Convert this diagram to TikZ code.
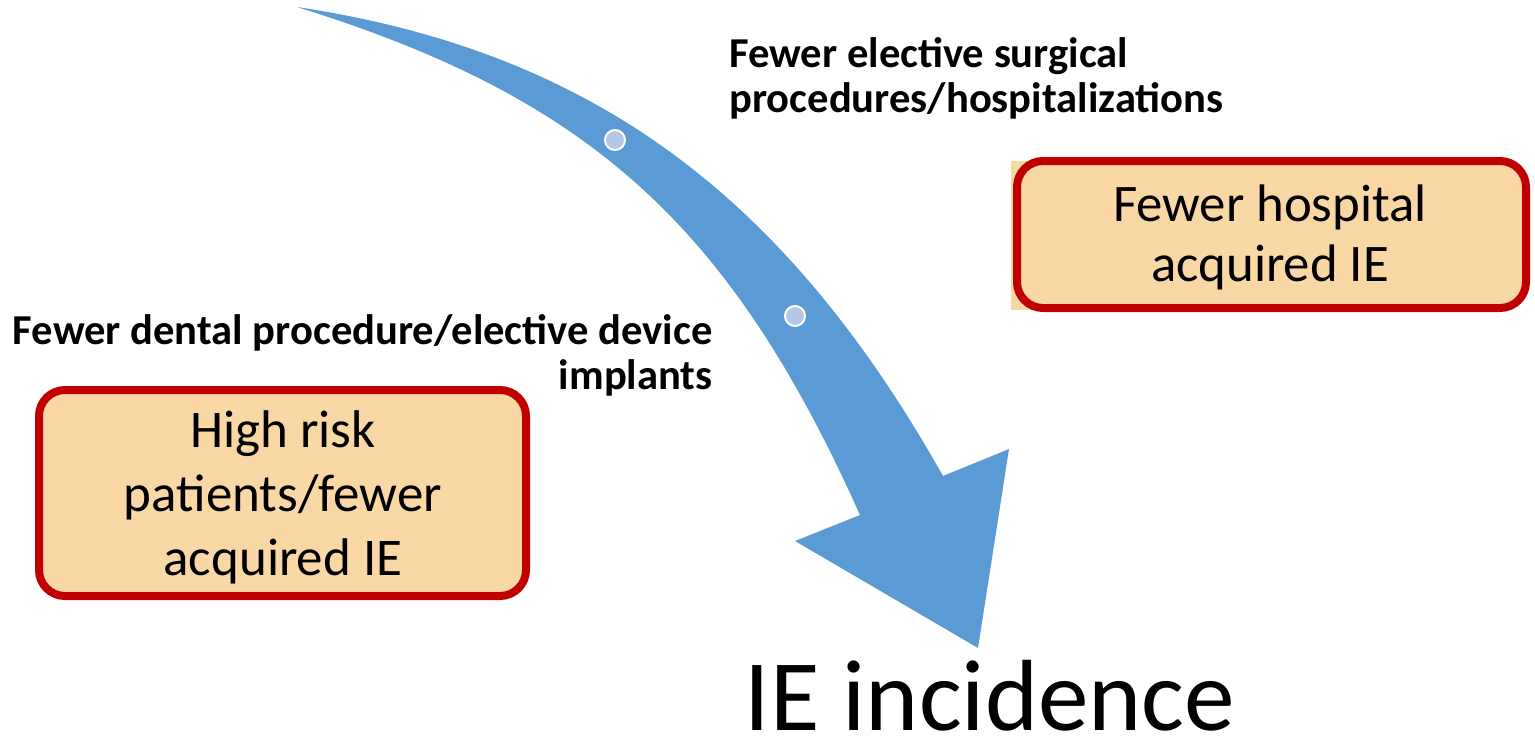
\documentclass[tikz,border=0pt]{standalone}
\usepackage{fontspec}
\setmainfont{Carlito}
\definecolor{arrowblue}{HTML}{5B9BD5}
\definecolor{dotblue}{HTML}{B4C7E7}
\definecolor{peach}{HTML}{FAD8A6}
\definecolor{boxred}{HTML}{C00000}
\tikzset{
  ebox/.style={draw=boxred, line width=4pt, fill=peach, rounded corners=13pt, align=center,
    inner sep=0pt},
  dotmark/.style={circle, fill=dotblue, draw=white, line width=1pt, minimum size=10pt, inner sep=0pt},
  blabel/.style={font=\fontsize{21.3}{22.5}\selectfont\bfseries, inner sep=0pt}
}
\begin{document}
\begin{tikzpicture}[x=0.5pt,y=-0.5pt]
\useasboundingbox (0,0) rectangle (1535,740);
% curved arrow
\fill[arrowblue] (297,7) .. controls (589,51) and (783,192) .. (943,476)
  -- (1009,449) -- (978,648) -- (795,541) -- (860,515)
  .. controls (730,225) and (590,98) .. (297,7) -- cycle;
\node[dotmark] (d1) at (615,140) {};
\node[dotmark] (d2) at (795,316) {};
% boxes
\fill[peach] (1011,161) rectangle (1490,310);
\node[ebox, minimum width=254.5pt, minimum height=73.5pt] (hosp) at (1271.5,234.5) {};
\node[font=\fontsize{26.4}{30}\selectfont, align=center, inner sep=0pt] (hospt) at (1270,237) {Fewer hospital\\acquired IE};
\node[ebox, minimum width=243.5pt, minimum height=103pt] (risk) at (282.5,493) {};
\node[font=\fontsize{26.5}{32}\selectfont, align=center, inner sep=0pt] (riskt) at (283,497) {High risk\\patients/fewer\\acquired IE};
% labels
\node[blabel, anchor=west, align=left] (surg) at (729,78) {Fewer elective surgical\\procedures/hospitalizations};
\node[blabel, anchor=east, align=right] (dent) at (713,355) {Fewer dental procedure/elective device\\implants};
\node[font=\fontsize{50.6}{60}\selectfont, inner sep=0pt, anchor=base] (inc) at (990,730) {IE incidence};
\end{tikzpicture}
\end{document}
